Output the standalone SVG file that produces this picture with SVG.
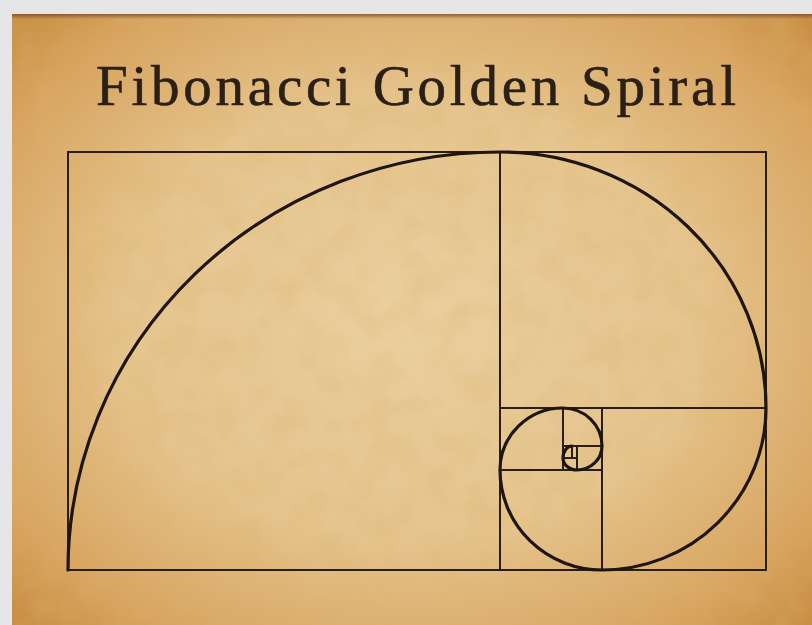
<svg xmlns="http://www.w3.org/2000/svg" width="812" height="625" viewBox="0 0 812 625">
<style>
.sq{fill:none;stroke:#2a1e14;stroke-width:2}
.sp{fill:none;stroke:#1e150e;stroke-width:3.2;stroke-linecap:round}
.title{font-family:"Liberation Serif","DejaVu Serif",serif;font-size:57px;fill:#2b2016;stroke:#2b2016;stroke-width:0.6}
</style>
<defs>
<radialGradient id="paper" cx="0.5" cy="0.5" r="0.72">
<stop offset="0" stop-color="#ebcf9f"/>
<stop offset="0.5" stop-color="#e5c48d"/>
<stop offset="0.82" stop-color="#d8a460"/>
<stop offset="1" stop-color="#c6893d"/>
</radialGradient>
<filter id="grain" x="0" y="0" width="100%" height="100%">
<feTurbulence type="fractalNoise" baseFrequency="0.03" numOctaves="4" seed="7" result="n"/>
<feColorMatrix type="matrix" values="0 0 0 0 0.7  0 0 0 0 0.45  0 0 0 0 0.15  0 0 0 -1.3 0.8"/>
</filter>
<linearGradient id="topShade" x1="0" y1="0" x2="0" y2="1">
<stop offset="0" stop-color="#6e4a20" stop-opacity="0.75"/>
<stop offset="1" stop-color="#6e4a20" stop-opacity="0"/>
</linearGradient>
</defs>
<rect width="812" height="625" fill="#e6e6e8"/>
<g id="paper-bg">
<rect x="12" y="14" width="800" height="611" fill="url(#paper)"/>
<rect x="12" y="14" width="800" height="611" filter="url(#grain)" opacity="0.45"/>
<rect x="12" y="14" width="800" height="5" fill="url(#topShade)"/>
</g>
<g id="title">
<text class="title" x="96" y="105" textLength="640" lengthAdjust="spacing">Fibonacci Golden Spiral</text>
</g>
<g id="squares">
<rect id="outer" class="sq" x="68" y="152" width="698" height="418"/>
<line class="sq" x1="500" y1="152" x2="500" y2="570"/>
<line class="sq" x1="500" y1="408" x2="766" y2="408"/>
<line class="sq" x1="602" y1="408" x2="602" y2="570"/>
<line class="sq" x1="500" y1="470" x2="602" y2="470"/>
<line class="sq" x1="563" y1="408" x2="563" y2="470"/>
<line class="sq" x1="563" y1="446" x2="602" y2="446"/>
<line class="sq" x1="577" y1="446" x2="577" y2="470"/>
<line class="sq" x1="563" y1="458" x2="577" y2="458"/>
<line class="sq" x1="572" y1="446" x2="572" y2="458"/>
</g>
<g id="spiral">
<path class="sp" d="M 68 570 A 432 418 0 0 1 500 152 A 266 256 0 0 1 766 408 A 164 162 0 0 1 602 570 A 102 100 0 0 1 500 470 A 63 62 0 0 1 563 408 A 39 38 0 0 1 602 446 A 25 24 0 0 1 577 470 A 14 12 0 0 1 563 458 A 9 12 0 0 1 572 446"/>
</g>
</svg>
